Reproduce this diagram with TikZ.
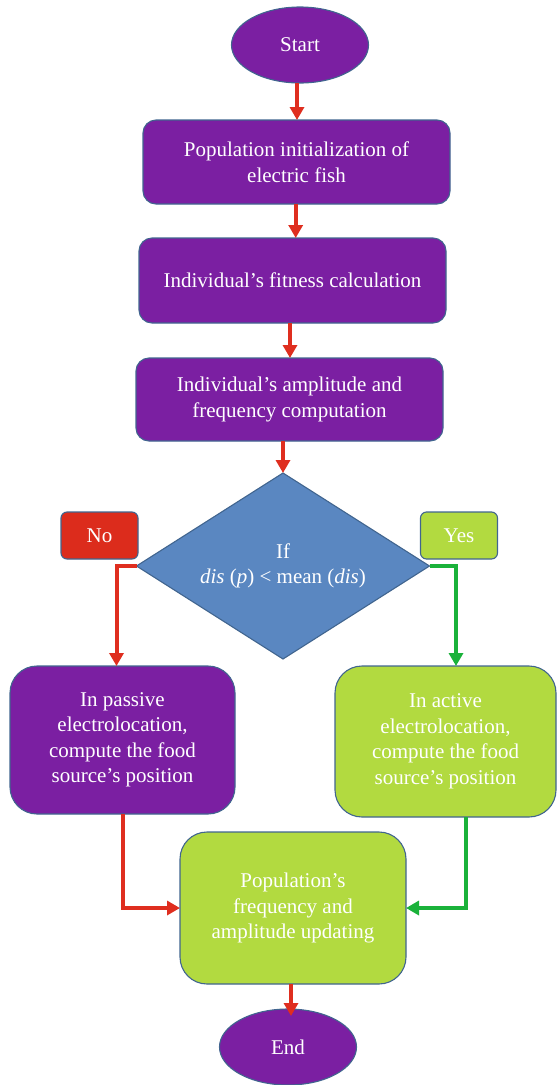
\documentclass[tikz,border=0pt]{standalone}
\usepackage{fontspec}
\setmainfont{Liberation Serif}
\usetikzlibrary{arrows.meta,shapes.geometric}

\definecolor{fishpurple}{HTML}{7B1FA2}
\definecolor{decblue}{HTML}{5A87C1}
\definecolor{leafgreen}{HTML}{B2DA40}
\definecolor{nored}{HTML}{DC2C1C}
\definecolor{edgeblue}{HTML}{41658F}
\definecolor{flowred}{HTML}{DF2E1F}
\definecolor{flowgreen}{HTML}{1AB23A}

\tikzset{
  base/.style={draw=edgeblue, line width=1.1pt, text=white, inner sep=0pt,
    outer sep=0pt, align=center, font=\fontsize{21}{25.5}\selectfont},
  terminal/.style={base, ellipse, fill=fishpurple,
    minimum width=137pt, minimum height=76pt},
  process/.style={base, rectangle, rounded corners=13pt, fill=fishpurple,
    minimum width=307pt, minimum height=84pt},
  bigbox/.style={base, rectangle, rounded corners=27pt},
  decision/.style={base, diamond, aspect=1.6, fill=decblue,
    minimum width=293pt, minimum height=186pt},
  tag/.style={base, rectangle, rounded corners=6pt,
    minimum width=77pt, minimum height=47pt},
  redflow/.style={draw=flowred, line width=4pt,
    -{Triangle[width=14pt,length=13pt]}},
  greenflow/.style={draw=flowgreen, line width=4pt,
    -{Triangle[width=14pt,length=13pt]}},
}

\begin{document}
\begin{tikzpicture}[x=1pt,y=-1pt]
\useasboundingbox (0,0) rectangle (557,1085);

% main column
\node[terminal] (start) at (300,45) {Start};
\node[process] (init) at (296.5,162) {Population initialization of\\electric fish};
\node[process, minimum height=85pt] (fit) at (292.5,280.5) {Individual’s fitness calculation};
\node[process, minimum height=83pt] (amp) at (289.5,399.5) {Individual’s amplitude and\\frequency computation};
\node[decision] (dec) at (283,566) {If\\\textit{dis} (\textit{p}) < mean (\textit{dis})};

% branch labels
\node[tag, fill=nored] (no) at (99.5,535.5) {No};
\node[tag, fill=leafgreen] (yes) at (459,535.5) {Yes};

% the two search modes
\node[bigbox, fill=fishpurple, minimum width=225pt, minimum height=148pt]
  (passive) at (122.5,740) {In passive\\electrolocation,\\compute the food\\source’s position};
\node[bigbox, fill=leafgreen, minimum width=221pt, minimum height=151pt]
  (active) at (445.5,741.5) {In active\\electrolocation,\\compute the food\\source’s position};

% update and end
\node[bigbox, fill=leafgreen, minimum width=226pt, minimum height=152pt]
  (update) at (293,908) {Population’s\\frequency and\\amplitude updating};
\node[terminal] (end) at (288,1047) {End};

% connector anchor points
\coordinate (c1) at ([xshift=-3pt]start.south);
\coordinate (c2) at ([xshift=-0.8pt]init.south);
\coordinate (c3) at ([xshift=-2.5pt]fit.south);
\coordinate (pin) at ([xshift=-6pt]passive.north);
\coordinate (ain) at ([xshift=10.5pt]active.north);
\coordinate (aout) at ([xshift=20.5pt]active.south);
\coordinate (u1) at ([xshift=-2pt]update.south);
\coordinate (u2) at ([yshift=-7pt]end.north);

% connectors
\draw[redflow] (c1) -- (c1 |- init.north);
\draw[redflow] (c2) -- (c2 |- fit.north);
\draw[redflow] (c3) -- (c3 |- amp.north);
\draw[redflow] (dec.north |- amp.south) -- (dec.north);
\draw[redflow] (dec.west) -| (pin);
\draw[greenflow] (dec.east) -| (ain);
\draw[redflow] (passive.south) |- (update.west);
\draw[greenflow] (aout) |- (update.east);
\draw[redflow] (u1) -- (u1 |- u2);
\end{tikzpicture}
\end{document}
